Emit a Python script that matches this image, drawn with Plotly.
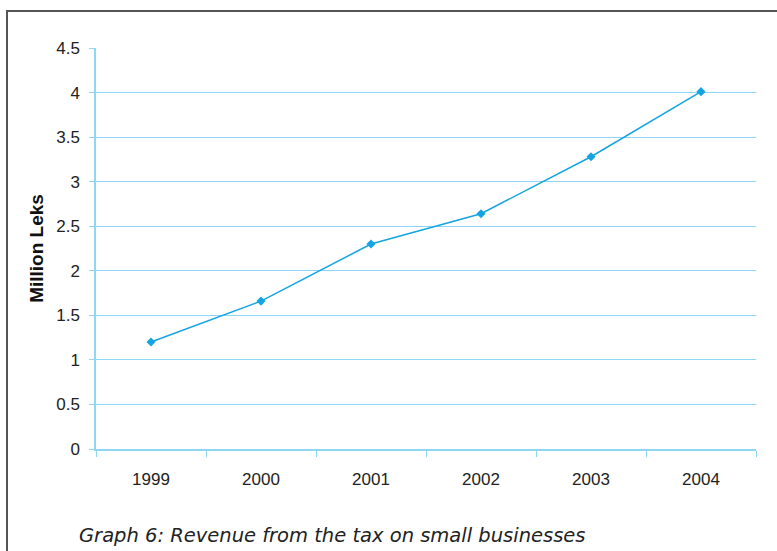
import plotly.graph_objects as go

years = ["1999", "2000", "2001", "2002", "2003", "2004"]
revenue = [1.20, 1.66, 2.30, 2.64, 3.28, 4.01]
y_ticks = [0, 0.5, 1, 1.5, 2, 2.5, 3, 3.5, 4, 4.5]
y_tick_labels = ["0", "0.5", "1", "1.5", "2", "2.5", "3", "3.5", "4", "4.5"]
y_title = "Million Leks"
caption = "Graph 6: Revenue from the tax on small businesses"

W, H = 777, 551
L, R, T, B = 96, 756, 48, 449
def px(x): return (x - L) / (R - L)
def py(y): return (B - y) / (B - T)

grid_col = "#8fd6f5"
line_col = "#14a4e2"

fig = go.Figure()
fig.add_trace(go.Scatter(
    x=years, y=revenue, mode="lines+markers",
    line=dict(color=line_col, width=1.5),
    marker=dict(symbol="diamond", size=7, color=line_col),
    showlegend=False, cliponaxis=False,
))

fig.update_layout(
    width=W, height=H,
    margin=dict(l=L, r=W - R, t=T, b=H - B),
    paper_bgcolor="white", plot_bgcolor="white",
    font=dict(family="Liberation Sans, Arial, sans-serif", size=17, color="#222222"),
    xaxis=dict(
        type="category", tickson="boundaries", ticks="outside", ticklen=6,
        tickcolor=grid_col, showline=True, linecolor=grid_col, linewidth=1.5,
        showgrid=False, zeroline=False, tickfont=dict(size=17),
        range=[-0.5, 5.5], ticklabelstandoff=14,
    ),
    yaxis=dict(
        range=[0, 4.5], tickvals=y_ticks, ticktext=y_tick_labels,
        ticks="outside", ticklen=5, tickcolor=grid_col,
        showline=True, linecolor=grid_col, linewidth=1.5,
        showgrid=True, gridcolor=grid_col, gridwidth=1.2, zeroline=False,
        tickfont=dict(size=17), ticklabelstandoff=6,
        title=dict(text="<b>" + y_title + "</b>", font=dict(size=19, color="#111111"), standoff=8),
    ),
    shapes=[
        dict(type="line", xref="paper", yref="paper", x0=px(7), x1=px(7), y0=py(11), y1=py(552),
             line=dict(color="#555555", width=2)),
        dict(type="line", xref="paper", yref="paper", x0=px(6), x1=px(778), y0=py(11), y1=py(11),
             line=dict(color="#555555", width=2)),
    ],
    annotations=[
        dict(text="<i>" + caption + "</i>", xref="paper", yref="paper",
             x=px(77), y=py(535), xanchor="left", yanchor="middle", showarrow=False,
             font=dict(family="DejaVu Sans, sans-serif", size=19.5, color="#222222")),
    ],
)

fig.write_html("out.html", config={"displayModeBar": False},
               post_script="document.body.style.margin='0';document.body.style.overflow='hidden';")
